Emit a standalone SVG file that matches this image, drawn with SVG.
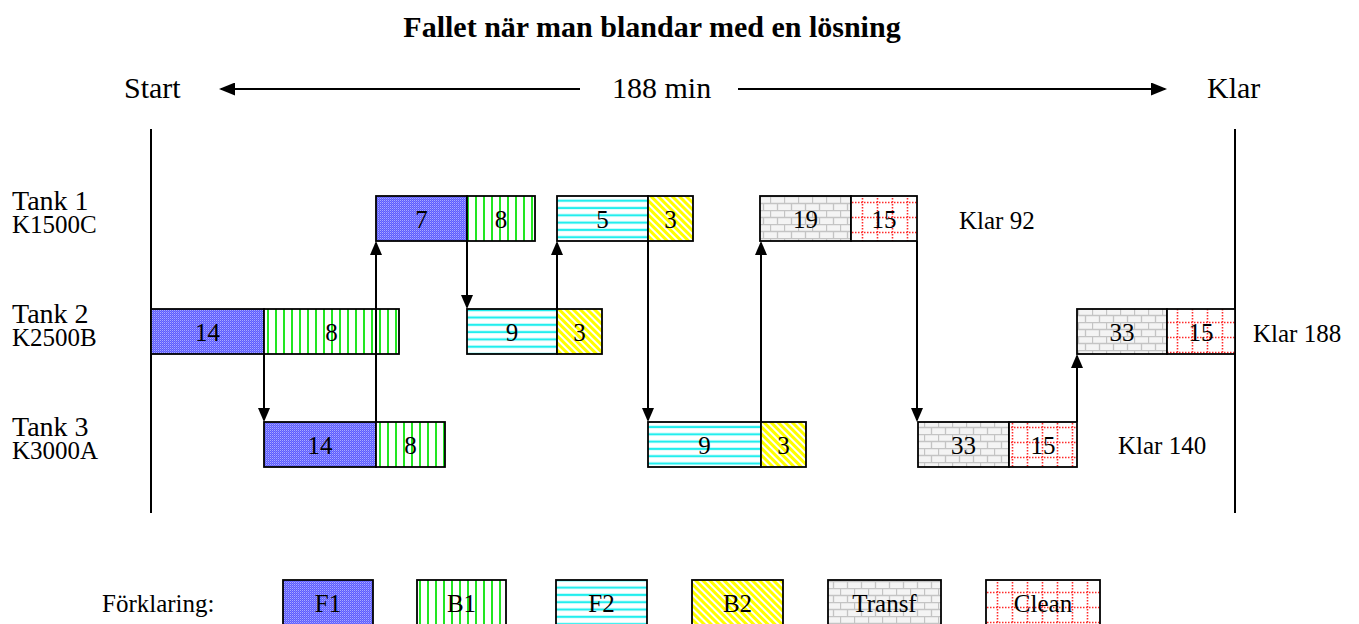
<svg xmlns="http://www.w3.org/2000/svg" width="1359" height="624" viewBox="0 0 1359 624">
<defs>
<style>
text{font-family:"Liberation Serif","Times New Roman",serif;fill:#000}
.t{font-size:30px}
.tk{font-size:28px}
.s{font-size:25px}
.n{font-size:25px;text-anchor:middle}
.b{stroke:#000;stroke-width:1.8}
.ln{stroke:#000;stroke-width:2;fill:none}
.f1{fill:url(#pF1)}
.b1{fill:url(#pB1)}
.f2{fill:url(#pF2)}
.b2{fill:url(#pB2)}
.tr{fill:url(#pTr)}
.cl{fill:url(#pCl)}
</style>
<pattern id="pF1" patternUnits="userSpaceOnUse" width="2" height="2">
<rect width="2" height="2" fill="#5c5cff"/>
<rect width="1" height="1" fill="#aaaaff"/>
<rect x="1" y="1" width="1" height="1" fill="#7c7cff"/>
</pattern>
<pattern id="pB1" patternUnits="userSpaceOnUse" width="8" height="8">
<rect width="8" height="8" fill="#fff"/>
<rect x="3" width="2" height="8" fill="#22e622"/>
</pattern>
<pattern id="pF2" patternUnits="userSpaceOnUse" width="8" height="7.3">
<rect width="8" height="7.3" fill="#fff"/>
<rect y="2.5" width="8" height="2.2" fill="#22eeee"/>
</pattern>
<pattern id="pB2" patternUnits="userSpaceOnUse" width="5" height="5" patternTransform="rotate(-45)">
<rect width="5" height="5" fill="#fff"/>
<rect width="3" height="5" fill="#ffff00"/>
</pattern>
<pattern id="pTr" patternUnits="userSpaceOnUse" width="14" height="14">
<rect width="14" height="14" fill="#f4f4f4"/>
<path d="M0 0.5H14M0 7.5H14M0.5 0V7.5M7.5 7.5V14" stroke="#c4c4c4" stroke-width="1.3" fill="none"/>
</pattern>
<pattern id="pCl" patternUnits="userSpaceOnUse" width="15" height="15">
<rect width="15" height="15" fill="#fff"/>
<path d="M0 7.5H15M7.5 0V15" stroke="#ff2a2a" stroke-width="1.6" stroke-dasharray="1.5 1.5" fill="none"/>
</pattern>
<marker id="ah" markerUnits="userSpaceOnUse" markerWidth="14" markerHeight="12" refX="12" refY="6" orient="auto">
<path d="M0 0L14 6L0 12Z" fill="#000"/>
</marker>
<marker id="ahH" markerUnits="userSpaceOnUse" markerWidth="16" markerHeight="13" refX="14" refY="6.5" orient="auto">
<path d="M0 0L16 6.5L0 13Z" fill="#000"/>
</marker>
</defs>
<rect width="1359" height="624" fill="#fff"/>

<text id="title" x="652" y="37" font-size="30" font-weight="bold" text-anchor="middle">Fallet när man blandar med en lösning</text>

<g id="header">
<text class="t" x="124" y="98">Start</text>
<text class="t" x="612" y="98">188 min</text>
<text class="t" x="1207" y="98">Klar</text>
<line class="ln" x1="580" y1="89" x2="221" y2="89" marker-end="url(#ahH)"/>
<line class="ln" x1="738" y1="89" x2="1165" y2="89" marker-end="url(#ahH)"/>
<line class="ln" x1="151" y1="129" x2="151" y2="513"/>
<line class="ln" x1="1235" y1="129" x2="1235" y2="513"/>
</g>

<g id="labels">
<text class="tk" x="12" y="210">Tank 1</text>
<text class="s" x="12" y="233">K1500C</text>
<text class="tk" x="12" y="323">Tank 2</text>
<text class="s" x="12" y="346">K2500B</text>
<text class="tk" x="12" y="436">Tank 3</text>
<text class="s" x="12" y="459">K3000A</text>
<text class="s" x="959" y="229">Klar 92</text>
<text class="s" x="1253" y="342">Klar 188</text>
<text class="s" x="1118" y="454">Klar 140</text>
</g>

<g id="tank1">
<rect class="b f1" x="376" y="196" width="91" height="45"/><text class="n" x="421.5" y="228">7</text>
<rect class="b b1" x="467" y="196" width="68" height="45"/><text class="n" x="501" y="228">8</text>
<rect class="b f2" x="557" y="196" width="91" height="45"/><text class="n" x="602.5" y="228">5</text>
<rect class="b b2" x="648" y="196" width="45" height="45"/><text class="n" x="670.5" y="228">3</text>
<rect class="b tr" x="760" y="196" width="91" height="45"/><text class="n" x="805.5" y="228">19</text>
<rect class="b cl" x="851" y="196" width="66" height="45"/><text class="n" x="884" y="228">15</text>
</g>

<g id="tank2">
<rect class="b f1" x="151" y="309" width="113" height="45"/><text class="n" x="207.5" y="341">14</text>
<rect class="b b1" x="264" y="309" width="135" height="45"/><text class="n" x="331.5" y="341">8</text>
<rect class="b f2" x="467" y="309" width="90" height="45"/><text class="n" x="512" y="341">9</text>
<rect class="b b2" x="557" y="309" width="45" height="45"/><text class="n" x="579.5" y="341">3</text>
<rect class="b tr" x="1077" y="309" width="90" height="45"/><text class="n" x="1122" y="341">33</text>
<rect class="b cl" x="1167" y="309" width="68" height="45"/><text class="n" x="1201" y="341">15</text>
</g>

<g id="tank3">
<rect class="b f1" x="264" y="422" width="112" height="45"/><text class="n" x="320" y="454">14</text>
<rect class="b b1" x="376" y="422" width="69" height="45"/><text class="n" x="410.5" y="454">8</text>
<rect class="b f2" x="648" y="422" width="113" height="45"/><text class="n" x="704.5" y="454">9</text>
<rect class="b b2" x="761" y="422" width="45" height="45"/><text class="n" x="783.5" y="454">3</text>
<rect class="b tr" x="918" y="422" width="91" height="45"/><text class="n" x="963.5" y="454">33</text>
<rect class="b cl" x="1009" y="422" width="68" height="45"/><text class="n" x="1043" y="454">15</text>
</g>

<g id="connectors">
<line class="ln" x1="264" y1="354" x2="264" y2="420" marker-end="url(#ah)"/>
<line class="ln" x1="376" y1="422" x2="376" y2="243" marker-end="url(#ah)"/>
<line class="ln" x1="467" y1="241" x2="467" y2="307" marker-end="url(#ah)"/>
<line class="ln" x1="557" y1="309" x2="557" y2="243" marker-end="url(#ah)"/>
<line class="ln" x1="648" y1="241" x2="648" y2="420" marker-end="url(#ah)"/>
<line class="ln" x1="761" y1="422" x2="761" y2="243" marker-end="url(#ah)"/>
<line class="ln" x1="917" y1="241" x2="917" y2="420" marker-end="url(#ah)"/>
<line class="ln" x1="1077" y1="422" x2="1077" y2="356" marker-end="url(#ah)"/>
</g>

<g id="legend">
<text class="s" x="102" y="612">Förklaring:</text>
<rect class="b f1" x="283" y="580" width="90" height="48"/><text class="n" x="328" y="612">F1</text>
<rect class="b b1" x="417" y="580" width="89" height="48"/><text class="n" x="461.5" y="612">B1</text>
<rect class="b f2" x="556" y="580" width="91" height="48"/><text class="n" x="601.5" y="612">F2</text>
<rect class="b b2" x="692" y="580" width="91" height="48"/><text class="n" x="737.5" y="612">B2</text>
<rect class="b tr" x="828" y="580" width="113" height="48"/><text class="n" x="884.5" y="612">Transf</text>
<rect class="b cl" x="986" y="580" width="114" height="48"/><text class="n" x="1043" y="612">Clean</text>
</g>
</svg>
